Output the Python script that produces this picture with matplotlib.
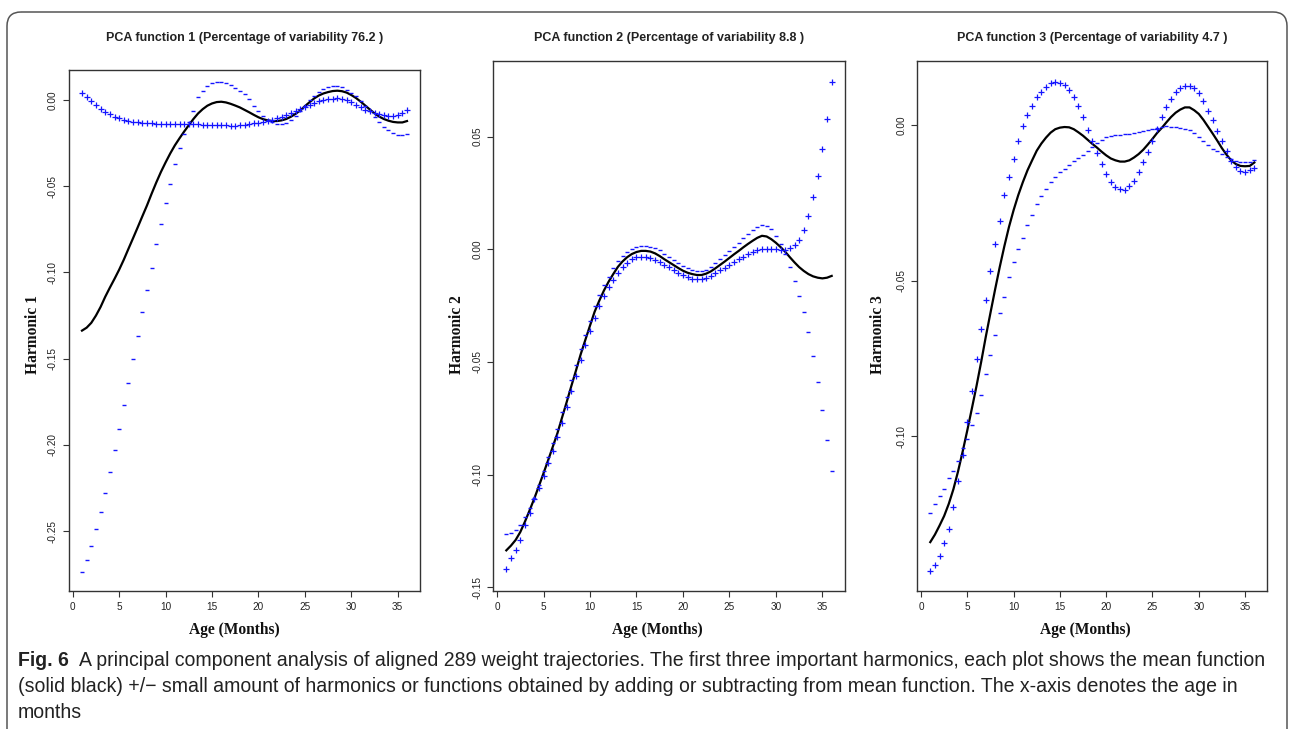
import numpy as np
import matplotlib
matplotlib.use("Agg")
import matplotlib.pyplot as plt
from matplotlib.patches import FancyBboxPatch
from matplotlib import font_manager

# ---------------- data ----------------
months = np.arange(1.0, 36.01, 0.5)   # sampled ages 1..36 months

p1_mean = [-0.1337, -0.1320, -0.1292, -0.1250, -0.1200, -0.1141, -0.1088, -0.1037, -0.0984, -0.0926,
           -0.0863, -0.0801, -0.0738, -0.0674, -0.0611, -0.0543, -0.0478, -0.0417, -0.0362, -0.0310,
           -0.0263, -0.0222, -0.0183, -0.0146, -0.0110, -0.0078, -0.0053, -0.0033, -0.0020, -0.0012,
           -0.0010, -0.0014, -0.0022, -0.0032, -0.0043, -0.0057, -0.0071, -0.0086, -0.0100, -0.0111,
           -0.0118, -0.0122, -0.0122, -0.0118, -0.0110, -0.0097, -0.0080, -0.0061, -0.0036, -0.0013,
           0.0009, 0.0026, 0.0038, 0.0046, 0.0052, 0.0054, 0.0051, 0.0043, 0.0029, 0.0012,
           -0.0009, -0.0032, -0.0055, -0.0077, -0.0096, -0.0110, -0.0120, -0.0127, -0.0130, -0.0130,
           -0.0122]
p1_plus = [0.0040, 0.0015, -0.0008, -0.0030, -0.0050, -0.0068, -0.0083, -0.0096, -0.0106, -0.0114,
           -0.0121, -0.0126, -0.0130, -0.0133, -0.0135, -0.0136, -0.0137, -0.0138, -0.0139, -0.0140,
           -0.0140, -0.0141, -0.0141, -0.0141, -0.0141, -0.0141, -0.0142, -0.0143, -0.0144, -0.0145,
           -0.0146, -0.0147, -0.0148, -0.0148, -0.0146, -0.0143, -0.0139, -0.0135, -0.0131, -0.0127,
           -0.0122, -0.0115, -0.0107, -0.0097, -0.0085, -0.0074, -0.0063, -0.0051, -0.0039, -0.0028,
           -0.0017, -0.0008, -0.0002, 0.0004, 0.0007, 0.0009, 0.0007, 0.0000, -0.0012, -0.0029,
           -0.0043, -0.0057, -0.0066, -0.0074, -0.0082, -0.0088, -0.0091, -0.0091, -0.0087, -0.0077,
           -0.0060]
p1_minus = [-0.2738, -0.2667, -0.2584, -0.2489, -0.2390, -0.2277, -0.2158, -0.2032, -0.1906, -0.1771,
            -0.1638, -0.1503, -0.1368, -0.1231, -0.1104, -0.0972, -0.0836, -0.0720, -0.0597, -0.0485,
            -0.0373, -0.0280, -0.0196, -0.0127, -0.0062, 0.0015, 0.0055, 0.0079, 0.0097, 0.0104,
            0.0106, 0.0100, 0.0089, 0.0072, 0.0055, 0.0032, 0.0004, -0.0032, -0.0066, -0.0095,
            -0.0114, -0.0129, -0.0138, -0.0141, -0.0131, -0.0114, -0.0092, -0.0064, -0.0032, -0.0002,
            0.0025, 0.0049, 0.0066, 0.0077, 0.0082, 0.0081, 0.0075, 0.0059, 0.0043, 0.0025,
            -0.0004, -0.0035, -0.0066, -0.0097, -0.0127, -0.0155, -0.0174, -0.0191, -0.0200, -0.0203,
            -0.0196]

p2_mean = [-0.1336, -0.1315, -0.1290, -0.1255, -0.1209, -0.1159, -0.1107, -0.1051, -0.0994, -0.0936,
           -0.0876, -0.0816, -0.0746, -0.0677, -0.0606, -0.0537, -0.0466, -0.0402, -0.0339, -0.0277,
           -0.0228, -0.0183, -0.0144, -0.0110, -0.0078, -0.0054, -0.0035, -0.0021, -0.0012, -0.0007,
           -0.0007, -0.0010, -0.0018, -0.0030, -0.0044, -0.0057, -0.0070, -0.0083, -0.0095, -0.0104,
           -0.0110, -0.0114, -0.0114, -0.0108, -0.0098, -0.0084, -0.0069, -0.0054, -0.0038, -0.0022,
           -0.0007, 0.0009, 0.0024, 0.0038, 0.0051, 0.0060, 0.0057, 0.0045, 0.0029, 0.0010,
           -0.0011, -0.0035, -0.0058, -0.0079, -0.0096, -0.0110, -0.0120, -0.0126, -0.0129, -0.0126,
           -0.0118]
p2_plus = [-0.1420, -0.1372, -0.1333, -0.1290, -0.1225, -0.1168, -0.1110, -0.1060, -0.1005, -0.0950,
           -0.0895, -0.0835, -0.0770, -0.0700, -0.0630, -0.0560, -0.0490, -0.0425, -0.0362, -0.0305,
           -0.0253, -0.0207, -0.0168, -0.0135, -0.0104, -0.0079, -0.0060, -0.0045, -0.0036, -0.0033,
           -0.0034, -0.0039, -0.0047, -0.0057, -0.0068, -0.0080, -0.0093, -0.0105, -0.0116, -0.0124,
           -0.0130, -0.0132, -0.0131, -0.0126, -0.0117, -0.0106, -0.0094, -0.0081, -0.0068, -0.0056,
           -0.0044, -0.0032, -0.0020, -0.0010, -0.0003, 0.0000, 0.0000, 0.0000, 0.0000, -0.0002,
           -0.0001, 0.0006, 0.0019, 0.0042, 0.0087, 0.0150, 0.0233, 0.0325, 0.0443, 0.0580,
           0.0741]
p2_minus = [-0.1265, -0.1258, -0.1247, -0.1222, -0.1190, -0.1150, -0.1102, -0.1044, -0.0984, -0.0922,
            -0.0858, -0.0796, -0.0722, -0.0654, -0.0582, -0.0514, -0.0443, -0.0380, -0.0316, -0.0250,
            -0.0203, -0.0160, -0.0121, -0.0085, -0.0052, -0.0029, -0.0010, 0.0003, 0.0011, 0.0014,
            0.0014, 0.0011, 0.0004, -0.0005, -0.0020, -0.0034, -0.0047, -0.0061, -0.0074, -0.0084,
            -0.0090, -0.0096, -0.0097, -0.0090, -0.0079, -0.0062, -0.0044, -0.0027, -0.0008, 0.0012,
            0.0030, 0.0050, 0.0068, 0.0086, 0.0100, 0.0107, 0.0105, 0.0090, 0.0060, 0.0022,
            -0.0021, -0.0078, -0.0140, -0.0205, -0.0280, -0.0365, -0.0475, -0.0590, -0.0715, -0.0845,
            -0.0985]

p3_mean = [-0.1340, -0.1316, -0.1287, -0.1256, -0.1217, -0.1170, -0.1113, -0.1049, -0.0981, -0.0910,
           -0.0838, -0.0761, -0.0680, -0.0604, -0.0529, -0.0457, -0.0390, -0.0328, -0.0274, -0.0226,
           -0.0184, -0.0146, -0.0114, -0.0083, -0.0060, -0.0041, -0.0025, -0.0014, -0.0009, -0.0007,
           -0.0008, -0.0014, -0.0024, -0.0035, -0.0048, -0.0061, -0.0073, -0.0086, -0.0098, -0.0108,
           -0.0114, -0.0118, -0.0118, -0.0114, -0.0105, -0.0094, -0.0080, -0.0063, -0.0045, -0.0026,
           -0.0010, 0.0008, 0.0025, 0.0039, 0.0049, 0.0056, 0.0056, 0.0047, 0.0035, 0.0016,
           -0.0006, -0.0028, -0.0051, -0.0075, -0.0096, -0.0114, -0.0126, -0.0132, -0.0133, -0.0132,
           -0.0121]
p3_plus = [-0.1432, -0.1413, -0.1383, -0.1344, -0.1299, -0.1228, -0.1145, -0.1059, -0.0954, -0.0856,
           -0.0751, -0.0655, -0.0561, -0.0470, -0.0382, -0.0310, -0.0226, -0.0166, -0.0109, -0.0052,
           -0.0005, 0.0031, 0.0062, 0.0088, 0.0107, 0.0123, 0.0134, 0.0139, 0.0135, 0.0127,
           0.0112, 0.0089, 0.0062, 0.0026, -0.0015, -0.0053, -0.0090, -0.0127, -0.0159, -0.0183,
           -0.0200, -0.0207, -0.0208, -0.0197, -0.0179, -0.0150, -0.0120, -0.0088, -0.0052, -0.0013,
           0.0025, 0.0056, 0.0084, 0.0104, 0.0117, 0.0124, 0.0125, 0.0117, 0.0101, 0.0075,
           0.0045, 0.0016, -0.0020, -0.0052, -0.0085, -0.0115, -0.0136, -0.0148, -0.0152, -0.0146,
           -0.0138]
p3_minus = [-0.1248, -0.1219, -0.1191, -0.1168, -0.1135, -0.1112, -0.1081, -0.1039, -0.1008, -0.0964,
            -0.0925, -0.0867, -0.0799, -0.0738, -0.0676, -0.0604, -0.0554, -0.0490, -0.0439, -0.0400,
            -0.0363, -0.0323, -0.0290, -0.0254, -0.0227, -0.0205, -0.0184, -0.0167, -0.0153, -0.0141,
            -0.0128, -0.0117, -0.0108, -0.0096, -0.0083, -0.0070, -0.0058, -0.0048, -0.0040, -0.0036,
            -0.0034, -0.0033, -0.0031, -0.0028, -0.0025, -0.0022, -0.0019, -0.0016, -0.0012, -0.0009,
            -0.0006, -0.0005, -0.0006, -0.0008, -0.0010, -0.0013, -0.0018, -0.0027, -0.0040, -0.0053,
            -0.0065, -0.0076, -0.0085, -0.0094, -0.0102, -0.0109, -0.0115, -0.0119, -0.0120, -0.0118,
            -0.0113]

titles = ["PCA function 1 (Percentage of variability 76.2 )",
          "PCA function 2 (Percentage of variability 8.8 )",
          "PCA function 3 (Percentage of variability 4.7 )"]
ylabels = ["Harmonic 1", "Harmonic 2", "Harmonic 3"]
xlabel_text = "Age (Months)"
xtick_values = [0, 5, 10, 15, 20, 25, 30, 35]
ytick_values = [[0.00, -0.05, -0.10, -0.15, -0.20, -0.25],
                [0.05, 0.00, -0.05, -0.10, -0.15],
                [0.00, -0.05, -0.10]]
ytick_labels = [["0.00", "-0.05", "-0.10", "-0.15", "-0.20", "-0.25"],
                ["0.05", "0.00", "-0.05", "-0.10", "-0.15"],
                ["0.00", "-0.05", "-0.10"]]
caption_bold = "Fig. 6"
caption_lines = [
    "A principal component analysis of aligned 289 weight trajectories. The first three important harmonics, each plot shows the mean function",
    "(solid black) +/\u2212 small amount of harmonics or functions obtained by adding or subtracting from mean function. The x-axis denotes the age in",
    "months",
]

# ---------------- layout ----------------
W, H = 1290, 729
fig = plt.figure(figsize=(W / 100, H / 100), dpi=100)

names = {f.name for f in font_manager.fontManager.ttflist}
SANS = "Liberation Sans" if "Liberation Sans" in names else "DejaVu Sans"
SERIF = "Liberation Serif" if "Liberation Serif" in names else "DejaVu Serif"
CAPF = "Liberation Sans Narrow" if "Liberation Sans Narrow" in names else SANS

def fx(px):
    return px / W

def fy(py):
    return 1 - py / H

# outer rounded frame
bg = fig.add_axes([0, 0, 1, 1], zorder=-5)
bg.set_xlim(0, W)
bg.set_ylim(H, 0)
bg.axis("off")
bg.add_patch(FancyBboxPatch((7, 12), 1280, 780, boxstyle="round,pad=0,rounding_size=14",
                            fc="none", ec="#555555", lw=1.1, clip_on=False))

boxes = [(69, 70, 420, 590.7), (493.3, 60.7, 844.7, 590.7), (917.3, 61, 1267.3, 590.7)]
ylims = [(-0.2845, 0.0174), (-0.1515, 0.0837), (-0.1496, 0.0205)]
xlabel_pos = [234.5, 657, 1085.5]
ylabel_x = [33, 457, 878]
series = [(p1_mean, p1_plus, p1_minus), (p2_mean, p2_plus, p2_minus), (p3_mean, p3_plus, p3_minus)]

blue = "#1515ff"
for i in range(3):
    l, t, r, b = boxes[i]
    ax = fig.add_axes([fx(l), fy(b), (r - l) / W, (b - t) / H])
    mean, plus, minus = series[i]
    ax.plot(months, mean, color="black", lw=1.6, zorder=2)
    ax.plot(months, plus, ls="none", marker="+", ms=4.2, mew=0.9, color=blue, zorder=3)
    ax.plot(months, minus, ls="none", marker="_", ms=3.2, mew=1.0, color=blue, zorder=3)
    ax.set_xlim(-0.4, 37.4)
    ax.set_ylim(*ylims[i])
    ax.set_xticks(xtick_values)
    ax.set_xticklabels([str(v) for v in xtick_values], fontsize=7.2, family=SANS, color="#222222")
    ax.set_yticks(ytick_values[i])
    ax.set_yticklabels(ytick_labels[i], fontsize=7.2, family=SANS, color="#222222",
                       rotation=90, va="center")
    ax.tick_params(direction="out", length=4, width=0.8, color="#333333", pad=4)
    for s in ax.spines.values():
        s.set_color("#333333")
        s.set_linewidth(1.0)
    cx = (l + r) / 2
    fig.text(fx(cx), fy(38.3), titles[i], ha="center", va="center", fontsize=9.0,
             fontweight="bold", family=SANS, color="#222222")
    fig.text(fx(xlabel_pos[i]), fy(630), xlabel_text, ha="center", va="center", fontsize=11.2,
             fontweight="bold", family=SERIF, color="#111111")
    fig.text(fx(ylabel_x[i]), fy(335), ylabels[i], ha="center", va="center", fontsize=11.2,
             fontweight="bold", family=SERIF, rotation=90, color="#111111")

# ---------------- caption ----------------
fig.canvas.draw()
rend = fig.canvas.get_renderer()
line_y = [660, 687, 713]
fs = 11.0
tb = fig.text(fx(18), fy(line_y[0]), caption_bold, fontsize=fs, fontweight="bold",
              family=CAPF, va="center", ha="left", color="#222222")
bb = tb.get_window_extent(rend)
t1 = fig.text((bb.x1 + 8) / W, fy(line_y[0]), caption_lines[0], fontsize=fs, family=CAPF,
              va="center", ha="left", color="#222222")
bb1 = t1.get_window_extent(rend)
scale = (1262 - 18) / (bb1.x1 - bb.x0)
fs2 = fs * scale
tb.set_fontsize(fs2)
bb = tb.get_window_extent(rend)
t1.set_fontsize(fs2)
t1.set_position(((bb.x1 + 8 * scale) / W, fy(line_y[0])))
for k in (1, 2):
    fig.text(fx(18), fy(line_y[k]), caption_lines[k], fontsize=fs2, family=CAPF,
             va="center", ha="left", color="#222222")

fig.savefig("out.png", dpi=100)
